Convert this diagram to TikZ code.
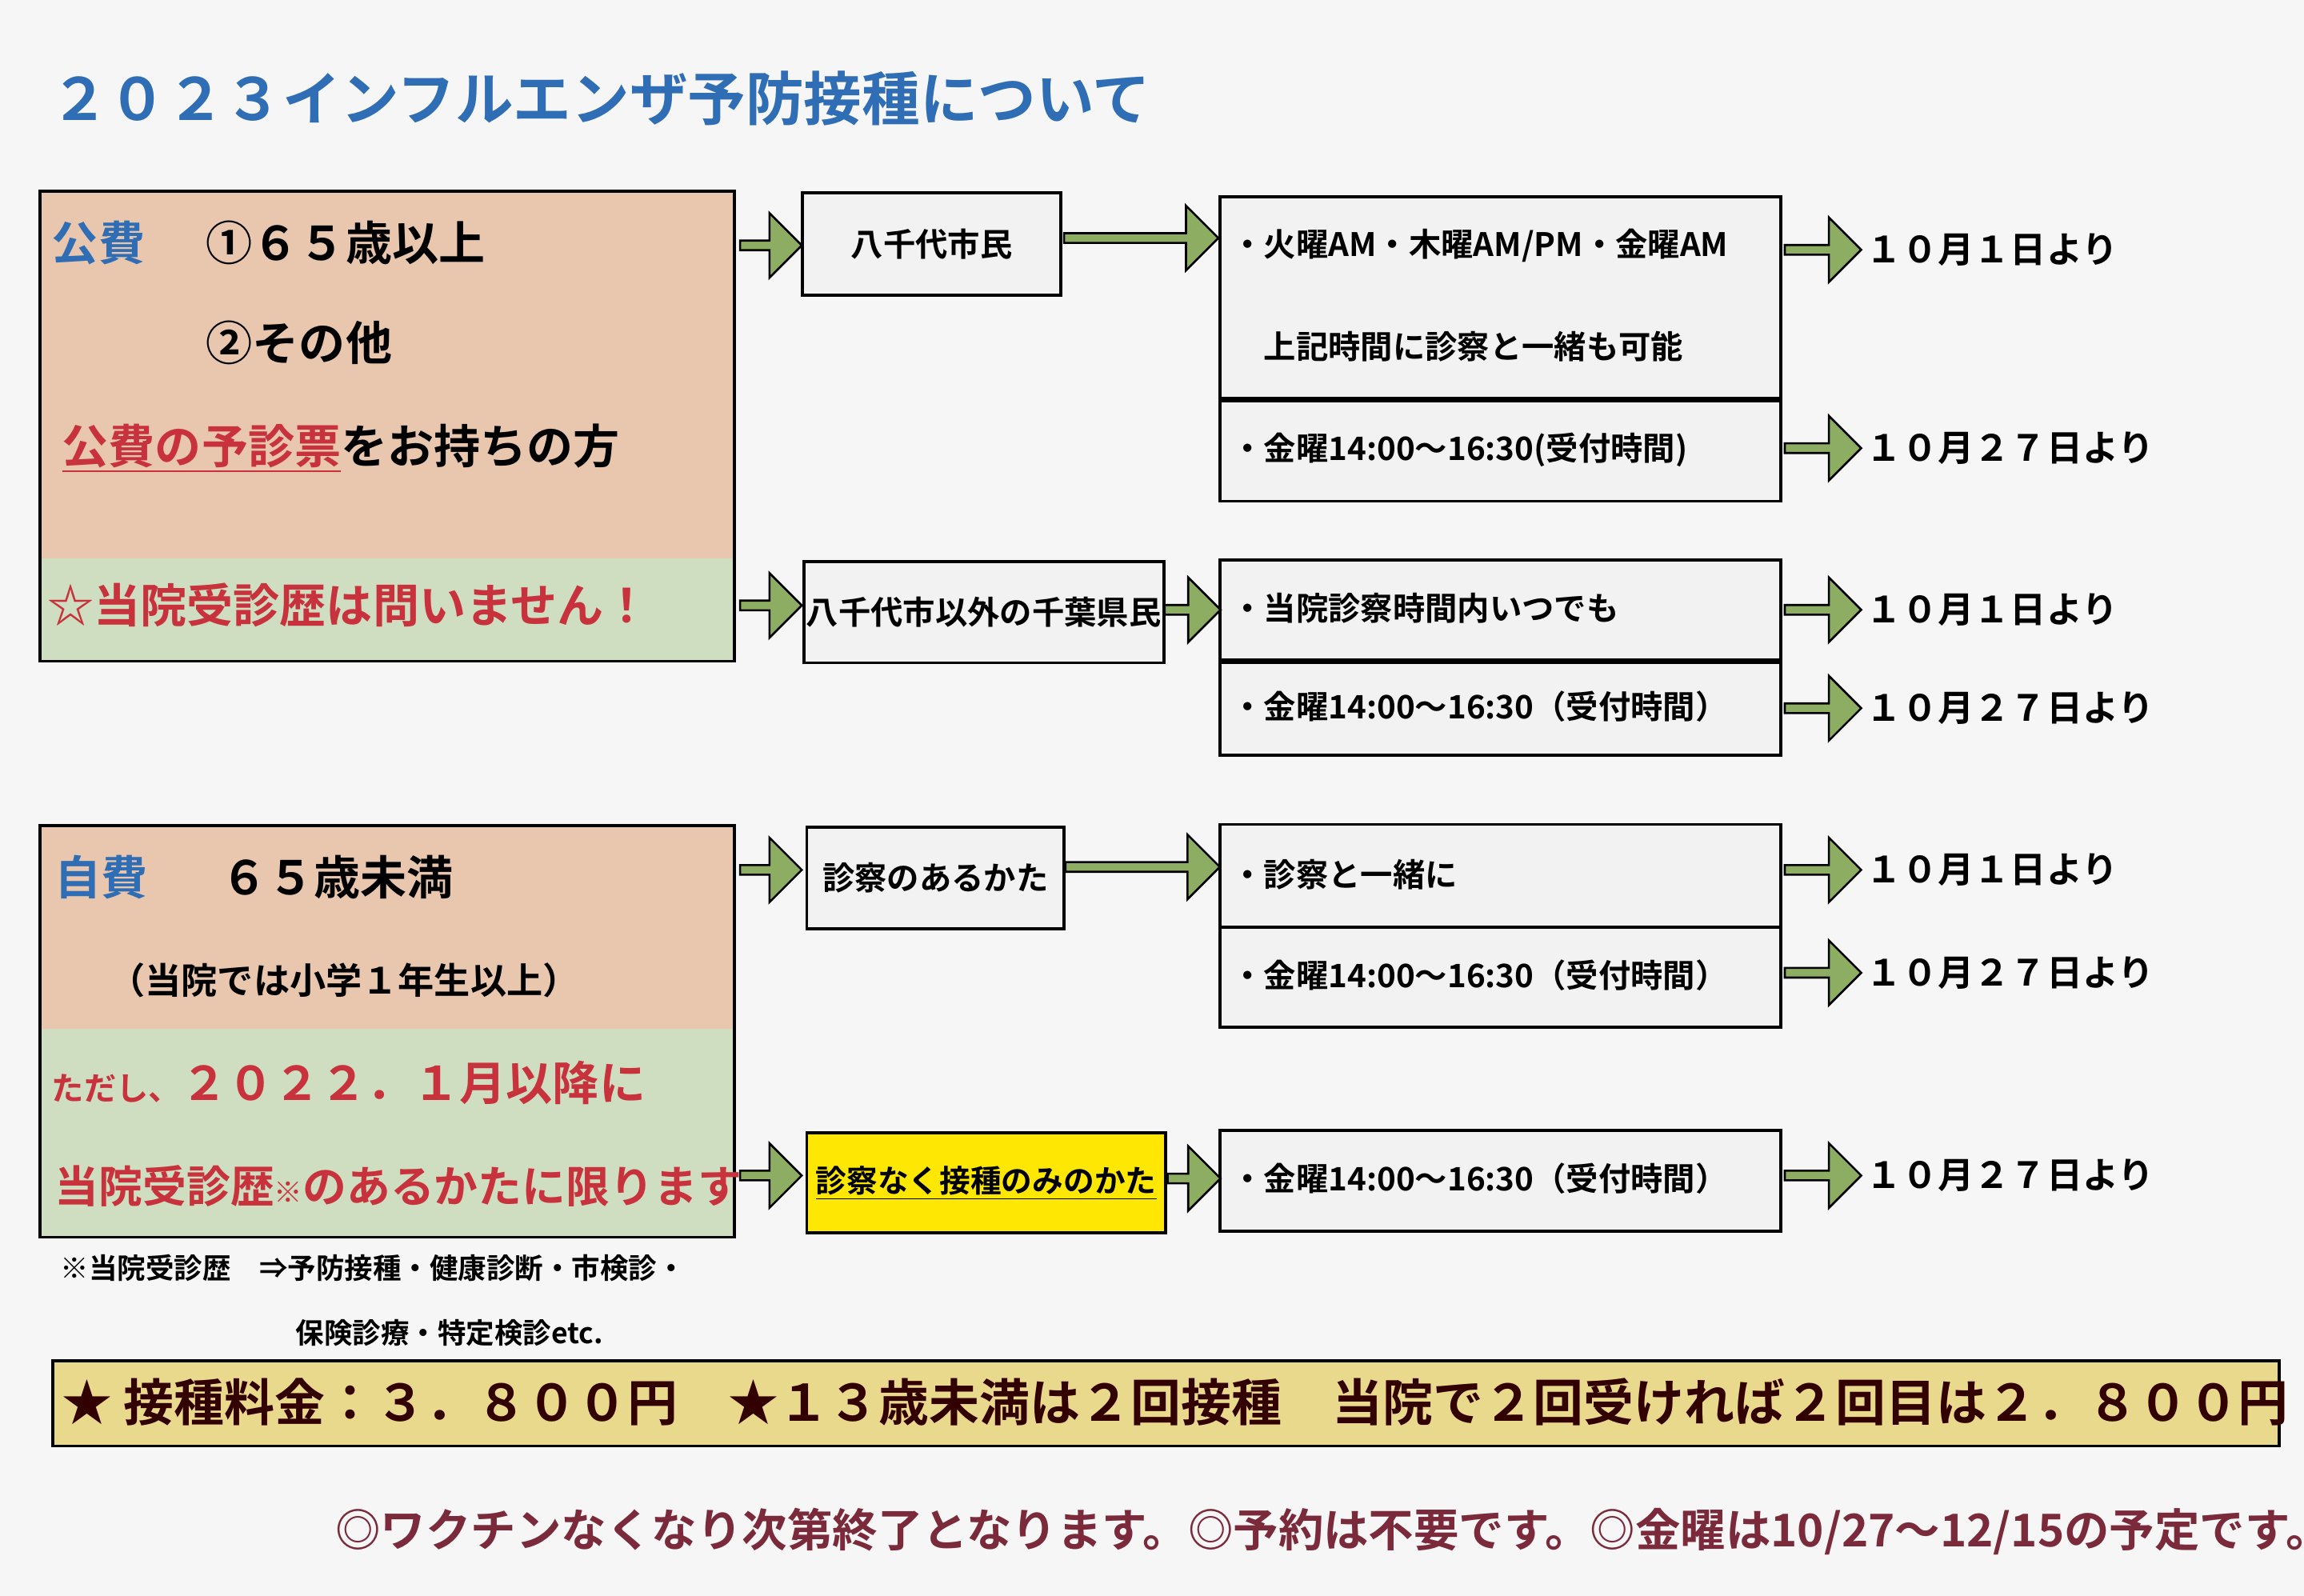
\documentclass[tikz,border=0pt]{standalone}
\usepackage{fontspec}
\setmainfont{Noto Sans CJK JP}[BoldFont={* Bold}]
\usetikzlibrary{shapes.arrows,positioning}
\definecolor{titleblue}{HTML}{2F6DB5}
\definecolor{peach}{HTML}{E9C6AE}
\definecolor{sage}{HTML}{CFDDC0}
\definecolor{arrowgreen}{HTML}{8DAE62}
\definecolor{txtred}{HTML}{C8323C}
\definecolor{barfill}{HTML}{E9D98C}
\definecolor{footred}{HTML}{7A2A3A}
\newcommand{\fsz}[1]{\fontsize{#1}{#1}\selectfont\bfseries}
\tikzset{
  garrow/.style={single arrow, draw=black, fill=arrowgreen, thick, minimum height={#1*0.02cm},
    minimum width={44*0.02cm}, single arrow head extend=0.08cm, inner sep=0pt},
  garrow/.default=42,
  slot/.style={draw=black, very thick, fill=white!90!gray, minimum width={382*0.02cm}, minimum height={68*0.02cm}, anchor=north west},
  who/.style={draw=black, very thick, fill=white!90!gray, anchor=north west, font=\fsz{12.5}, inner sep=0pt},
  line/.style={anchor=west, font=\fsz{12.5}},
  datetxt/.style={anchor=west, font=\fsz{14}, inner sep=1pt},
  big/.style={anchor=west, font=\fsz{18}, inner sep=0pt},
}
\begin{document}
\begin{tikzpicture}[x=0.02cm,y=-0.02cm]
\useasboundingbox (0,0) rectangle (1568,1086);
\fill[white!93!gray] (0,0) rectangle (1568,1086);
\node[anchor=west, text=titleblue, font=\fsz{22.5}, inner sep=0pt] (title) at (34,67) {２０２３インフルエンザ予防接種について};

% public cost block
\fill[peach] (27,130) rectangle (500,380);
\fill[sage] (27,380) rectangle (500,450);
\draw[very thick] (27,130) rectangle (500,450);
\node[big, text=titleblue] (kohi) at (35,165) {公費};
\node[big] (age65) at (140,165) {①６５歳以上};
\node[big] (other) at (140,233) {②その他};
\node[big] (ticket) at (42,305) {\textcolor{txtred}{\underline{公費の予診票}}をお持ちの方};
\node[big, text=txtred] (nohist) at (32,412) {☆当院受診歴は問いません！};

\node[who, minimum width={176*0.02cm}, minimum height={70*0.02cm}] (yachiyo) at (545,130) {八千代市民};
\node[slot, minimum height={137*0.02cm}] (slotA) at (829,133) {};
\node[line] at (832,167) {・火曜AM・木曜AM/PM・金曜AM};
\node[line] at (832,236) {　上記時間に診察と一緒も可能};
\node[slot] (slotB) at (829,272) {};
\node[line] at (832,306) {・金曜14:00～16:30(受付時間)};
\node[garrow] (a1) at (523,167) {};
\node[garrow=105] (a2) at (775,162) {};
\node[garrow=52] (a3) at (1239,170) {};
\node[datetxt, right=0pt of a3] (d1) {１０月１日より};
\node[garrow=52] (a4) at (1239,305) {};
\node[datetxt, right=0pt of a4] (d2) {１０月２７日より};

\node[who, minimum width={245*0.02cm}, minimum height={69*0.02cm}] (chiba) at (546,381) {八千代市以外の千葉県民};
\node[slot] (slotC) at (829,380) {};
\node[line] at (832,414) {・当院診察時間内いつでも};
\node[slot, minimum height={63*0.02cm}] (slotD) at (829,450) {};
\node[line] at (832,481) {・金曜14:00～16:30（受付時間）};
\node[garrow] (a5) at (523,412) {};
\node[garrow=38] (a6) at (810,415) {};
\node[garrow=52] (a7) at (1239,415) {};
\node[datetxt, right=0pt of a7] (d3) {１０月１日より};
\node[garrow=52] (a8) at (1239,482) {};
\node[datetxt, right=0pt of a8] (d4) {１０月２７日より};

% self pay block
\fill[peach] (27,562) rectangle (500,700);
\fill[sage] (27,700) rectangle (500,842);
\draw[very thick] (27,562) rectangle (500,842);
\node[big, text=titleblue] (jihi) at (37,597) {自費};
\node[big] (under65) at (150,597) {６５歳未満};
\node[anchor=west, font=\fsz{14}] (grade) at (68,667) {（当院では小学１年生以上）};
\node[big, text=txtred] (since) at (35,737) {{\fsz{12.5}ただし、}２０２２．１月以降に};
\node[anchor=west, font=\fsz{17}, inner sep=0pt, text=txtred] (limit) at (37,807) {当院受診歴{\fsz{11}※}のあるかたに限ります};

\node[who, minimum width={175*0.02cm}, minimum height={69*0.02cm}] (exam) at (548,562) {診察のあるかた};
\node[slot, minimum height={70*0.02cm}] (slotE) at (829,560) {};
\node[line] at (832,595) {・診察と一緒に};
\node[slot] (slotF) at (829,630) {};
\node[line] at (832,664) {・金曜14:00～16:30（受付時間）};
\node[garrow] (a9) at (523,592) {};
\node[garrow=105] (a10) at (776,590) {};
\node[garrow=52] (a11) at (1239,592) {};
\node[datetxt, right=0pt of a11] (d5) {１０月１日より};
\node[garrow=52] (a12) at (1239,662) {};
\node[datetxt, right=0pt of a12] (d6) {１０月２７日より};

\node[who, fill=yellow!90!orange, minimum width={244*0.02cm}, minimum height={68*0.02cm}, font=\fsz{12}] (noexam) at (548,770) {\underline{診察なく接種のみのかた}};
\node[slot, minimum height={69*0.02cm}] (slotG) at (829,768) {};
\node[line] at (832,802) {・金曜14:00～16:30（受付時間）};
\node[garrow] (a13) at (523,800) {};
\node[garrow=36] (a14) at (811,802) {};
\node[garrow=52] (a15) at (1239,800) {};
\node[datetxt, right=0pt of a15] (d7) {１０月２７日より};

\node[anchor=west, font=\fsz{11}] (note1) at (35,863) {※当院受診歴　⇒予防接種・健康診断・市検診・};
\node[anchor=west, font=\fsz{11}] (note2) at (195,907) {保険診療・特定検診etc.};

% fee bar
\node[draw=black, very thick, fill=barfill, anchor=north west, minimum width={1515*0.02cm}, minimum height={58*0.02cm}] (fee) at (35,925) {};
\node[anchor=west, font=\fsz{19.5}, text=black!80!red, inner sep=0pt] (feetxt) at (42,954)
  {★ 接種料金：３．８００円　★１３歳未満は２回接種　当院で２回受ければ２回目は２．８００円};
\node[anchor=west, font=\fsz{17.5}, text=footred, inner sep=0pt] (foot) at (228,1042)
  {◎ワクチンなくなり次第終了となります。◎予約は不要です。◎金曜は10/27～12/15の予定です。};
\end{tikzpicture}
\end{document}
